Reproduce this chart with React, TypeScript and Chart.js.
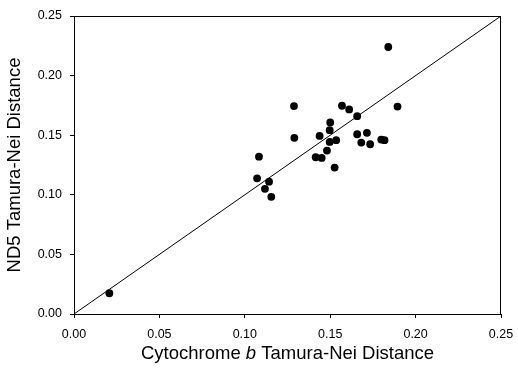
import React, { useEffect, useRef } from "react";
import { Chart, registerables } from "chart.js";

Chart.register(...registerables);

const cytbDistance = [
  0.0207, 0.184, 0.1894, 0.1288, 0.129, 0.1083, 0.1072, 0.1142, 0.1118, 0.1155,
  0.1569, 0.1611, 0.1658, 0.150, 0.1497, 0.1438, 0.1497, 0.1535, 0.1481, 0.1415,
  0.145, 0.1526, 0.1658, 0.1682, 0.1715, 0.1734, 0.1799, 0.1818,
];
const nd5Distance = [
  0.0174, 0.224, 0.174, 0.1744, 0.1478, 0.132, 0.1138, 0.111, 0.105, 0.0983,
  0.1747, 0.1716, 0.166, 0.1607, 0.1542, 0.1494, 0.1444, 0.1458, 0.1371, 0.1315,
  0.1309, 0.1228, 0.1508, 0.1438, 0.152, 0.1424, 0.1463, 0.1458,
];
const identityLine = [0, 0.25];
const axisMin = 0;
const axisMax = 0.25;
const tickStep = 0.05;
const xTitleParts = [
  { text: "Cytochrome ", italic: false },
  { text: "b", italic: true },
  { text: " Tamura-Nei Distance", italic: false },
];
const yTitle = "ND5 Tamura-Nei Distance";

const FONT = "'Liberation Sans', Arial, sans-serif";

export default function App() {
  const canvasRef = useRef<HTMLCanvasElement | null>(null);

  useEffect(() => {
    if (!canvasRef.current) return;
    const points = cytbDistance.map((x, i) => ({ x, y: nd5Distance[i] }));
    const linePts = identityLine.map((v) => ({ x: v, y: v }));

    const framePlugin = {
      id: "frameAndTitles",
      afterDraw(chart: any) {
        const { ctx, chartArea } = chart;
        ctx.save();
        ctx.strokeStyle = "#000";
        ctx.lineWidth = 1;
        ctx.beginPath();
        ctx.moveTo(chartArea.left, chartArea.top + 0.5);
        ctx.lineTo(chartArea.right, chartArea.top + 0.5);
        ctx.moveTo(chartArea.right - 0.5, chartArea.top);
        ctx.lineTo(chartArea.right - 0.5, chartArea.bottom);
        ctx.stroke();

        // x title with italic b
        const size = 18.5;
        ctx.fillStyle = "#000";
        ctx.textBaseline = "middle";
        ctx.textAlign = "left";
        const fonts = xTitleParts.map((p) => `${p.italic ? "italic " : ""}${size}px ${FONT}`);
        let total = 0;
        xTitleParts.forEach((p, i) => {
          ctx.font = fonts[i];
          total += ctx.measureText(p.text).width;
        });
        let x = (chartArea.left + chartArea.right) / 2 - total / 2;
        const y = 354;
        xTitleParts.forEach((p, i) => {
          ctx.font = fonts[i];
          ctx.fillText(p.text, x, y);
          x += ctx.measureText(p.text).width;
        });

        // y title
        ctx.save();
        ctx.translate(15, (chartArea.top + chartArea.bottom) / 2);
        ctx.rotate(-Math.PI / 2);
        ctx.textAlign = "center";
        ctx.textBaseline = "middle";
        ctx.font = `${size}px ${FONT}`;
        ctx.fillText(yTitle, 0, 0);
        ctx.restore();
        ctx.restore();
      },
    };

    const chart = new Chart(canvasRef.current, {
      type: "scatter",
      data: {
        datasets: [
          {
            type: "line",
            data: linePts,
            borderColor: "#000",
            borderWidth: 1,
            pointRadius: 0,
            showLine: true,
            fill: false,
          } as any,
          {
            data: points,
            backgroundColor: "#000",
            borderColor: "#000",
            pointRadius: 3.9,
            pointBorderWidth: 0,
          },
        ],
      },
      options: {
        animation: false,
        responsive: false,
        maintainAspectRatio: false,
        layout: { padding: { top: 16, right: 17, left: 0, bottom: 0 } },
        plugins: { legend: { display: false }, tooltip: { enabled: false } },
        scales: {
          x: {
            type: "linear",
            min: axisMin,
            max: axisMax,
            afterFit(scale: any) {
              scale.height = 58;
              scale.paddingRight = 0;
              scale.paddingLeft = 0;
            },
            ticks: {
              stepSize: tickStep,
              padding: 9,
              color: "#000",
              font: { family: FONT, size: 12.5 },
              callback: (v: any) => Number(v).toFixed(2),
            },
            grid: { display: true, drawOnChartArea: false, drawTicks: true, tickLength: 4, color: "#000" },
            border: { display: true, color: "#000", width: 1 },
          },
          y: {
            type: "linear",
            min: axisMin,
            max: axisMax,
            afterFit(scale: any) {
              scale.width = 74;
              scale.paddingTop = 0;
              scale.paddingBottom = 0;
            },
            ticks: {
              stepSize: tickStep,
              padding: 8,
              color: "#000",
              font: { family: FONT, size: 12.5 },
              callback: (v: any) => Number(v).toFixed(2),
            },
            grid: { display: true, drawOnChartArea: false, drawTicks: true, tickLength: 4, color: "#000" },
            border: { display: true, color: "#000", width: 1 },
          },
        },
      },
      plugins: [framePlugin],
    });
    return () => chart.destroy();
  }, []);

  return (
    <div style={{ position: "fixed", left: 0, top: 0, width: 518, height: 372, background: "#fff" }}>
      <canvas ref={canvasRef} width={518} height={372} style={{ width: 518, height: 372, display: "block" }} />
    </div>
  );
}
